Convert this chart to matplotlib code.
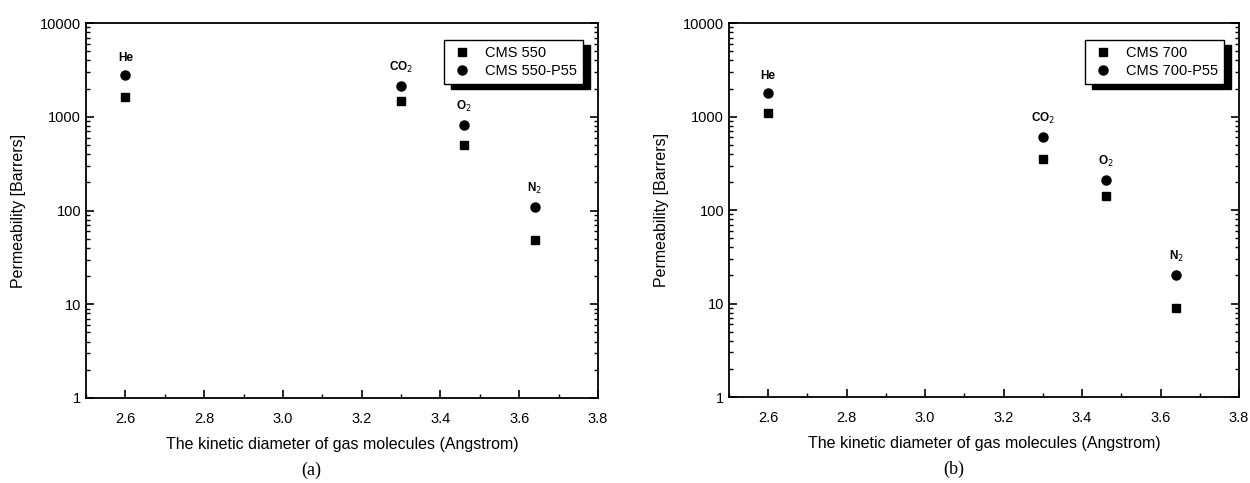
import matplotlib.pyplot as plt
from matplotlib.ticker import LogLocator, NullFormatter
import numpy as np

# kinetic diameters (Angstrom) for He, CO2, O2, N2
gases = ['He', 'CO$_2$', 'O$_2$', 'N$_2$']
diameter = [2.6, 3.3, 3.46, 3.64]

# panel (a)
cms550 = [1650, 1480, 500, 48]
cms550_p55 = [2800, 2150, 820, 110]

# panel (b)
cms700 = [1100, 350, 140, 9]
cms700_p55 = [1800, 600, 210, 20]

plt.rcParams['font.family'] = ['Liberation Sans', 'DejaVu Sans']

fig = plt.figure(figsize=(12.5, 4.83), dpi=100)
ax_a = fig.add_axes([0.0688, 0.176, 0.4096, 0.776])
ax_b = fig.add_axes([0.5832, 0.178, 0.408, 0.774])


def draw_panel(ax, sq, circ, names, caption):
    ax.plot(diameter, sq, 's', color='black', markersize=5.5, label=names[0])
    ax.plot(diameter, circ, 'o', color='black', markersize=6.5, label=names[1])
    for x, y, g in zip(diameter, circ, gases):
        ax.annotate(g, (x, y), xytext=(0, 8), textcoords='offset points',
                    ha='center', va='bottom', fontsize=8.5, fontweight='bold')
    ax.set_yscale('log')
    ax.set_xlim(2.5, 3.8)
    ax.set_ylim(1, 10000)
    ax.set_xticks(np.arange(2.6, 3.81, 0.2))
    ax.set_xticks(np.arange(2.5, 3.81, 0.1), minor=True)
    ax.set_xticklabels(['%.1f' % t for t in np.arange(2.6, 3.81, 0.2)])
    ax.set_yticks([1, 10, 100, 1000, 10000])
    ax.set_yticklabels(['1', '10', '100', '1000', '10000'])
    ax.yaxis.set_minor_locator(LogLocator(base=10, subs=np.arange(2, 10), numticks=20))
    ax.yaxis.set_minor_formatter(NullFormatter())
    ax.tick_params(which='both', direction='in', top=False, right=True, labelsize=10.5)
    ax.tick_params(which='major', length=6, width=1.2)
    ax.tick_params(which='minor', length=3, width=1)
    ax.tick_params(axis='x', pad=10)
    for s in ax.spines.values():
        s.set_linewidth(1.3)
    ax.set_xlabel('The kinetic diameter of gas molecules (Angstrom)', fontsize=11.5, labelpad=8)
    ax.set_ylabel('Permeability [Barrers]', fontsize=11.5, labelpad=10)
    ax.legend(loc='upper right', bbox_to_anchor=(0.985, 0.975), fancybox=False,
              edgecolor='black', framealpha=1, fontsize=10.5, handletextpad=0.8,
              handlelength=1.6, borderpad=0.4, labelspacing=0.3,
              shadow={'ox': 5, 'oy': -4, 'color': 'black', 'alpha': 1})
    ax.text(0.44, -0.17, caption, transform=ax.transAxes, ha='center', va='top',
            fontsize=13, family='Liberation Serif')


draw_panel(ax_a, cms550, cms550_p55, ['CMS 550', 'CMS 550-P55'], '(a)')
draw_panel(ax_b, cms700, cms700_p55, ['CMS 700', 'CMS 700-P55'], '(b)')

fig.savefig('out.png', dpi=100)
